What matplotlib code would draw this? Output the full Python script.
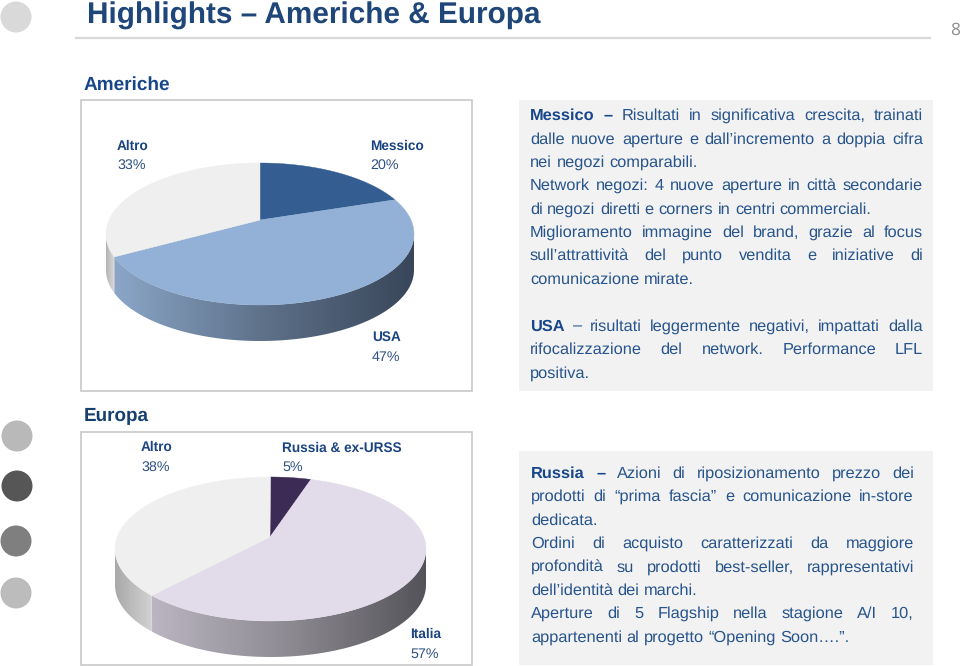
import numpy as np
import matplotlib.pyplot as plt
from matplotlib.colors import LinearSegmentedColormap
from matplotlib.patches import Circle, Polygon, Rectangle

plt.rcParams['font.family'] = ['Liberation Sans', 'DejaVu Sans']
plt.rcParams['text.hinting'] = 'no_hinting'

# Data
america_labels = ['Messico', 'USA', 'Altro']
america_shares = [20, 47, 33]
europe_labels = ['Russia & ex-URSS', 'Italia', 'Altro']
europe_shares = [5, 57, 38]

# text, justified, number of bold words at the start
america_text = [
    ('Messico – Risultati in significativa crescita, trainati', True, 2),
    ('dalle nuove aperture e dall’incremento a doppia cifra', True, 0),
    ('nei negozi comparabili.', False, 0),
    ('Network negozi: 4 nuove aperture in città secondarie', True, 0),
    ('di negozi diretti e corners in centri commerciali.', False, 0),
    ('Miglioramento immagine del brand, grazie al focus', True, 0),
    ('sull’attrattività del punto vendita e iniziative di', True, 0),
    ('comunicazione mirate.', False, 0),
    ('USA – risultati leggermente negativi, impattati dalla', True, 1),
    ('rifocalizzazione del network. Performance LFL', True, 0),
    ('positiva.', False, 0),
]
america_text_y = [120, 143.5, 167, 190, 213.5, 237, 260, 284, 331, 354, 377.5]

europe_text = [
    ('Russia – Azioni di riposizionamento prezzo dei', True, 2),
    ('prodotti di “prima fascia” e comunicazione in-store', True, 0),
    ('dedicata.', False, 0),
    ('Ordini di acquisto caratterizzati da maggiore', True, 0),
    ('profondità su prodotti best-seller, rappresentativi', True, 0),
    ('dell’identità dei marchi.', False, 0),
    ('Aperture di 5 Flagship nella stagione A/I 10,', True, 0),
    ('appartenenti al progetto “Opening Soon….”.', False, 0),
]
europe_text_y = [478, 501, 524.5, 548, 571.5, 595, 618, 641.5]

NAVY = '#1a4480'
TEXT = '#27548c'
BODY_SIZE = 11.75

fig = plt.figure(figsize=(9.6, 6.66), dpi=100)
ax = fig.add_axes([0, 0, 1, 1])
ax.set_xlim(0, 960)
ax.set_ylim(666, 0)
ax.axis('off')
renderer = fig.canvas.get_renderer()


def rim_angle(theta, cx, cy, rx, ry, apex_y):
    # ray from the apex through the flattened circle, hits the top ellipse
    dx, dy = np.sin(theta), -(ry / rx) * np.cos(theta)
    oy = apex_y - cy
    a = (dx / rx) ** 2 + (dy / ry) ** 2
    b = 2 * oy * dy / ry ** 2
    c = (oy / ry) ** 2 - 1
    s = (-b + np.sqrt(b * b - 4 * a * c)) / (2 * a)
    x, y = s * dx, oy + s * dy
    t = np.arctan2(x / rx, -y / ry)
    return t if t >= 0 else t + 2 * np.pi


def rim(t0, t1, cx, cy, rx, ry, shift=0):
    t = np.linspace(t0, t1, 120)
    return np.column_stack([cx + rx * np.sin(t), cy - ry * np.cos(t) + shift])


def side(t0, t1, colors, cx, cy, rx, ry, depth):
    top = rim(t0, t1, cx, cy, rx, ry)
    low = rim(t1, t0, cx, cy, rx, ry, depth)
    poly = Polygon(np.vstack([top, low]), closed=True, fc='none', ec='none')
    ax.add_patch(poly)
    x0, x1 = top[:, 0].min(), top[:, 0].max()
    cmap = LinearSegmentedColormap.from_list('s', colors)
    im = ax.imshow(np.linspace(0, 1, 256)[None, :], cmap=cmap, aspect='auto',
                   extent=[x0, x1, cy + ry + depth + 2, cy - 5], zorder=2)
    im.set_clip_path(poly)


def pie3d(shares, face_colors, side_colors, cx, cy, rx, ry, apex_x, apex_y, depth):
    edges = np.cumsum([0] + shares) / sum(shares) * 2 * np.pi
    ts = [0.0]
    for e in edges[1:-1]:
        ts.append(rim_angle(e, cx, cy, rx, ry, apex_y))
    ts.append(2 * np.pi)
    # sides first, only the lower half of the ellipse is visible
    for i in range(len(shares)):
        t0, t1 = max(ts[i], np.pi / 2), min(ts[i + 1], 3 * np.pi / 2)
        if t1 > t0:
            side(t0, t1, side_colors[i], cx, cy, rx, ry, depth)
    for i in range(len(shares)):
        pts = rim(ts[i], ts[i + 1], cx, cy, rx, ry)
        pts = np.vstack([[apex_x, apex_y], pts])
        ax.add_patch(Polygon(pts, closed=True, fc=face_colors[i], ec=face_colors[i],
                             lw=0.3, zorder=3))


def label(x, y, name, share):
    ax.text(x, y, name, fontsize=9.8, fontweight='bold', color=NAVY, va='baseline', ha='left')
    ax.text(x, y + 19.5, f'{share}%', fontsize=10.3, color='#2f5283', va='baseline', ha='left')


def width_of(word, weight):
    t = ax.text(0, 0, word, fontsize=BODY_SIZE, fontweight=weight)
    w = t.get_window_extent(renderer).width
    t.remove()
    return w


def paragraph(lines, ys, x0, x1):
    space = width_of('a a', 'normal') - width_of('aa', 'normal')
    for (line, justify, n_bold), y in zip(lines, ys):
        words = line.split(' ')
        weights = ['bold' if i < n_bold else 'normal' for i in range(len(words))]
        widths = [width_of(w, k) for w, k in zip(words, weights)]
        gap = (x1 - x0 - sum(widths)) / (len(words) - 1) if justify else space
        x = x0
        for w, k, wd in zip(words, weights, widths):
            color = '#17478a' if k == 'bold' else TEXT
            ax.text(x, y, w, fontsize=BODY_SIZE, fontweight=k, color=color,
                    va='baseline', ha='left')
            x += wd + gap


# Side bullets
for cx, cy, col in [(16, 17, '#d9d9d9'), (17, 436, '#b9b9b9'), (17, 486, '#565656'),
                    (16, 541, '#7f7f7f'), (16, 593, '#bcbcbc')]:
    ax.add_patch(Circle((cx, cy), 15.5, fc=col, ec='none'))

# Title
ax.text(87, 24, 'Highlights – Americhe & Europa', fontsize=21.4, fontweight='bold',
        color='#1f4679', va='baseline', ha='left')
ax.plot([76, 930], [38, 38], color='#d9d9d9', lw=1.6)
ax.text(955, 30, '8', fontsize=12.5, color='#8c8c8c', family='Open Sans', va='center', ha='center')

# Section headers
ax.text(84, 90, 'Americhe', fontsize=13.7, fontweight='bold', color='#17478a', va='baseline', ha='left')
ax.text(84, 421, 'Europa', fontsize=13.6, fontweight='bold', color='#17406f', va='baseline', ha='left')

# Chart frames
ax.add_patch(Rectangle((81, 100), 391, 291, fc='white', ec='#c8c8c8', lw=1.2))
ax.add_patch(Rectangle((81, 432), 391, 233, fc='white', ec='#c8c8c8', lw=1.2))

# Text panels
ax.add_patch(Rectangle((519, 100), 414, 291, fc='#f2f2f2', ec='none'))
ax.add_patch(Rectangle((519, 451), 414, 214, fc='#f2f2f2', ec='none'))

pie3d(america_shares, ['#345e92', '#93b0d6', '#efefef'],
      [['#345e92', '#345e92'], ['#8ba6c8', '#5d7189', '#39465a'], ['#b4b4b4', '#dcdcdc']],
      260, 234, 154, 71, 260, 220, 36)
pie3d(europe_shares, ['#3c2c55', '#e2dcea', '#efefef'],
      [['#3c2c55', '#3c2c55'], ['#bab5c1', '#8d8a92', '#55535a'], ['#a9a9a9', '#d2d2d2']],
      270.5, 549, 155.5, 72, 270, 537, 36)

label(370, 149.5, america_labels[0], america_shares[0])
label(372, 341, america_labels[1], america_shares[1])
label(117, 149.5, america_labels[2], america_shares[2])
label(282, 451.5, europe_labels[0], europe_shares[0])
label(410, 638, europe_labels[1], europe_shares[1])
label(141, 451, europe_labels[2], europe_shares[2])

paragraph(america_text, america_text_y, 530, 923)
paragraph(europe_text, europe_text_y, 531, 914)

ax.set_xlim(0, 960)
ax.set_ylim(666, 0)
fig.savefig('out.png', dpi=100)
